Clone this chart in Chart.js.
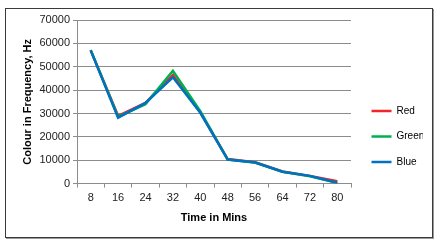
<!DOCTYPE html>
<html>
<head>
<meta charset="utf-8">
<script src="https://cdn.jsdelivr.net/npm/chart.js@4"></script>
<style>
  body { margin: 0; background: #fff; }
  #box {
    position: absolute; left: 5px; top: 8px;
    width: 428px; height: 230px; box-sizing: border-box;
    border: 1px solid #3a3a3a; box-shadow: 1px 1px 0 #9a9a9a;
  }
  #wrap { position: relative; width: 426px; height: 228px; }
</style>
</head>
<body>
<div id="box"><div id="wrap"><canvas id="myChart"></canvas></div></div>
<script>
const minutes = ['8', '16', '24', '32', '40', '48', '56', '64', '72', '80'];
const redHz   = [57000, 29000, 34500, 46500, 30500, 10500, 9100, 5200, 3300, 1000];
const greenHz = [57200, 28600, 34000, 48300, 31000, 10300, 9000, 5100, 3100, 300];
const blueHz  = [57000, 28200, 34500, 45500, 30300, 10300, 9000, 5100, 3300, 400];
const yTicks  = [0, 10000, 20000, 30000, 40000, 50000, 60000, 70000];

const family = '"Liberation Sans", Arial, sans-serif';
const font = { family: family, size: 11 };

function line(label, data, color, order) {
  return {
    label: label, data: data, order: order,
    borderColor: color, backgroundColor: color,
    borderWidth: 2.5, pointRadius: 0, tension: 0
  };
}

const ctx = document.getElementById('myChart').getContext('2d');

new Chart(ctx, {
  type: 'line',
  data: {
    labels: minutes,
    datasets: [
      line('Red', redHz, '#f2262a', 3),
      line('Green', greenHz, '#00b050', 2),
      line('Blue', blueHz, '#0070c0', 1)
    ]
  },
  options: {
    responsive: true,
    maintainAspectRatio: false,
    animation: false,
    layout: { padding: { left: 15, top: 11, right: 9, bottom: 8 } },
    scales: {
      x: {
        offset: true,
        grid: {
          offset: true,
          drawOnChartArea: false, // solo las marcas bajo el eje
          tickLength: 4,
          color: '#8c8c8c'
        },
        border: { color: '#8c8c8c' },
        ticks: { color: '#222', font: font, padding: 4, maxRotation: 0 },
        title: {
          display: true, text: 'Time in Mins', color: '#000',
          font: { family: family, size: 11, weight: 'bold' }, padding: { top: 3 }
        }
      },
      y: {
        min: 0, max: 70000,
        afterBuildTicks: s => { s.ticks = yTicks.map(v => ({ value: v })); },
        afterFit: s => { s.width = 56; },
        grid: { color: '#8c8c8c', tickLength: 4 },
        border: { color: '#8c8c8c' },
        ticks: { color: '#222', font: font, padding: 3, callback: v => String(v) },
        title: {
          display: true, text: 'Colour in Frequency, Hz', color: '#000',
          font: { family: family, size: 11, weight: 'bold' }, padding: 0
        }
      },
      // hueco vacío entre el gráfico y la leyenda
      gap: {
        type: 'linear', position: 'right', display: true,
        afterFit: s => { s.width = 5; },
        grid: { display: false },
        border: { display: false },
        ticks: { display: false }
      }
    },
    plugins: {
      tooltip: { enabled: false },
      legend: {
        position: 'right',
        align: 'center',
        title: { display: true, text: '', font: { family: family, size: 10 }, padding: 6 },
        labels: {
          boxWidth: 20, boxHeight: 2.5, padding: 15.5, color: '#000',
          font: { family: family, size: 10 },
          sort: (a, b) => a.datasetIndex - b.datasetIndex,
          generateLabels: chart => Chart.defaults.plugins.legend.labels.generateLabels(chart)
            .map(item => Object.assign(item, { lineWidth: 0 }))
        }
      }
    }
  }
});
</script>
</body>
</html>
